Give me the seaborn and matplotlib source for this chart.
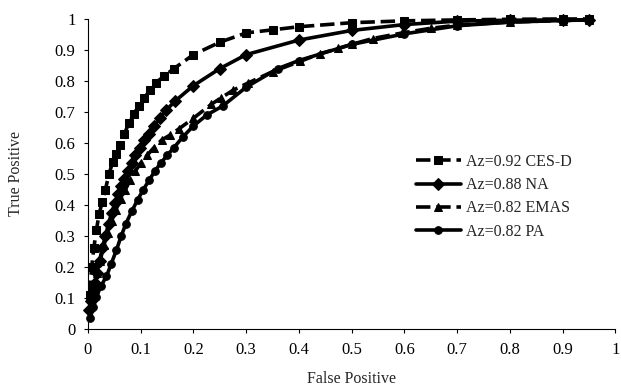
import seaborn as sns
import matplotlib.pyplot as plt
import pandas as pd

# ROC curves
cesd_fp = [0.003, 0.007, 0.011, 0.016, 0.021, 0.027, 0.033, 0.040, 0.047, 0.054, 0.061,
           0.069, 0.078, 0.087, 0.097, 0.107, 0.117, 0.129, 0.144, 0.163, 0.200, 0.250,
           0.300, 0.350, 0.400, 0.500, 0.600, 0.700, 0.800, 0.900, 0.950]
cesd_tp = [0.11, 0.20, 0.26, 0.32, 0.37, 0.41, 0.45, 0.50, 0.54, 0.565, 0.595,
           0.63, 0.665, 0.695, 0.72, 0.745, 0.77, 0.795, 0.815, 0.84, 0.885, 0.925,
           0.955, 0.965, 0.975, 0.988, 0.994, 0.997, 0.999, 1.0, 1.0]

na_fp = [0.002, 0.005, 0.009, 0.013, 0.017, 0.022, 0.027, 0.033, 0.039, 0.045, 0.051,
         0.057, 0.063, 0.069, 0.076, 0.083, 0.090, 0.098, 0.106, 0.115, 0.125, 0.136,
         0.148, 0.165, 0.200, 0.250, 0.300, 0.400, 0.500, 0.600, 0.700, 0.800, 0.900, 0.950]
na_tp = [0.06, 0.09, 0.12, 0.15, 0.18, 0.22, 0.26, 0.30, 0.34, 0.375, 0.405,
         0.435, 0.46, 0.485, 0.51, 0.535, 0.56, 0.585, 0.61, 0.63, 0.655, 0.68,
         0.705, 0.735, 0.785, 0.84, 0.885, 0.932, 0.963, 0.982, 0.993, 0.996, 0.997, 0.997]

emas_fp = [0.003, 0.007, 0.012, 0.017, 0.023, 0.030, 0.037, 0.045, 0.053, 0.062, 0.071,
           0.080, 0.090, 0.100, 0.112, 0.125, 0.140, 0.155, 0.172, 0.200, 0.234, 0.252,
           0.275, 0.303, 0.350, 0.402, 0.440, 0.475, 0.500, 0.540, 0.596, 0.650, 0.700,
           0.800, 0.900, 0.950]
emas_tp = [0.07, 0.10, 0.14, 0.18, 0.22, 0.27, 0.31, 0.35, 0.385, 0.42, 0.45,
           0.48, 0.51, 0.535, 0.56, 0.585, 0.61, 0.625, 0.645, 0.68, 0.725, 0.745,
           0.77, 0.793, 0.83, 0.863, 0.888, 0.905, 0.918, 0.937, 0.955, 0.97, 0.98,
           0.99, 0.995, 0.997]

pa_fp = [0.004, 0.010, 0.016, 0.025, 0.035, 0.044, 0.054, 0.063, 0.072, 0.083, 0.094,
         0.105, 0.116, 0.127, 0.138, 0.150, 0.163, 0.180, 0.200, 0.225, 0.256, 0.300,
         0.360, 0.400, 0.500, 0.600, 0.700, 0.800, 0.900, 0.950]
pa_tp = [0.035, 0.07, 0.104, 0.14, 0.17, 0.21, 0.255, 0.30, 0.34, 0.38, 0.416,
         0.45, 0.48, 0.51, 0.535, 0.56, 0.585, 0.62, 0.655, 0.69, 0.72, 0.78,
         0.84, 0.866, 0.918, 0.952, 0.978, 0.99, 0.995, 0.997]

labels = ['Az=0.92 CES-D', 'Az=0.88 NA', 'Az=0.82 EMAS', 'Az=0.82 PA']
x_ticks = [0, 0.1, 0.2, 0.3, 0.4, 0.5, 0.6, 0.7, 0.8, 0.9, 1]
y_ticks = [0, 0.1, 0.2, 0.3, 0.4, 0.5, 0.6, 0.7, 0.8, 0.9, 1]

sns.set_style('ticks')
plt.rcParams['font.family'] = ['Liberation Serif', 'DejaVu Serif']

fig = plt.figure(figsize=(6.21, 3.89), dpi=100)
ax = fig.add_axes([0.1417, 0.1542, 0.849, 0.797])

series = [
    (cesd_fp, cesd_tp, 's', (0, (4, 1.6)), 5.5),
    (na_fp, na_tp, 'D', '-', 6),
    (emas_fp, emas_tp, '^', (0, (4, 1.6)), 6),
    (pa_fp, pa_tp, 'o', '-', 5.5),
]
for (fp, tp, mk, ls, ms), lab in zip(series, labels):
    df = pd.DataFrame({'fp': fp, 'tp': tp})
    sns.lineplot(data=df, x='fp', y='tp', ax=ax, sort=False, color='black',
                 marker=mk, markersize=ms, markeredgecolor='black', linestyle=ls,
                 linewidth=2.6, label=lab, clip_on=False)

ax.set_xlim(0, 1)
ax.set_ylim(0, 1)
ax.set_xticks(x_ticks)
ax.set_xticklabels([str(t) for t in x_ticks])
ax.set_yticks(y_ticks)
ax.set_yticklabels([str(t) for t in y_ticks])
ax.tick_params(labelsize=12, length=3, width=0.8, colors='black', pad=6)
for s in ['left', 'bottom']:
    ax.spines[s].set_linewidth(0.8)
    ax.spines[s].set_color('black')
sns.despine(ax=ax)

ax.set_xlabel('False Positive', fontsize=11.5, labelpad=10)
ax.set_ylabel('True Positive', fontsize=11.5, labelpad=22)

ax.legend(loc='upper left', bbox_to_anchor=(0.61, 0.585), frameon=False,
          fontsize=11.5, handlelength=2.8, handletextpad=0.3, labelspacing=0.45,
          borderaxespad=0, numpoints=1)

fig.savefig('out.png', dpi=100)
